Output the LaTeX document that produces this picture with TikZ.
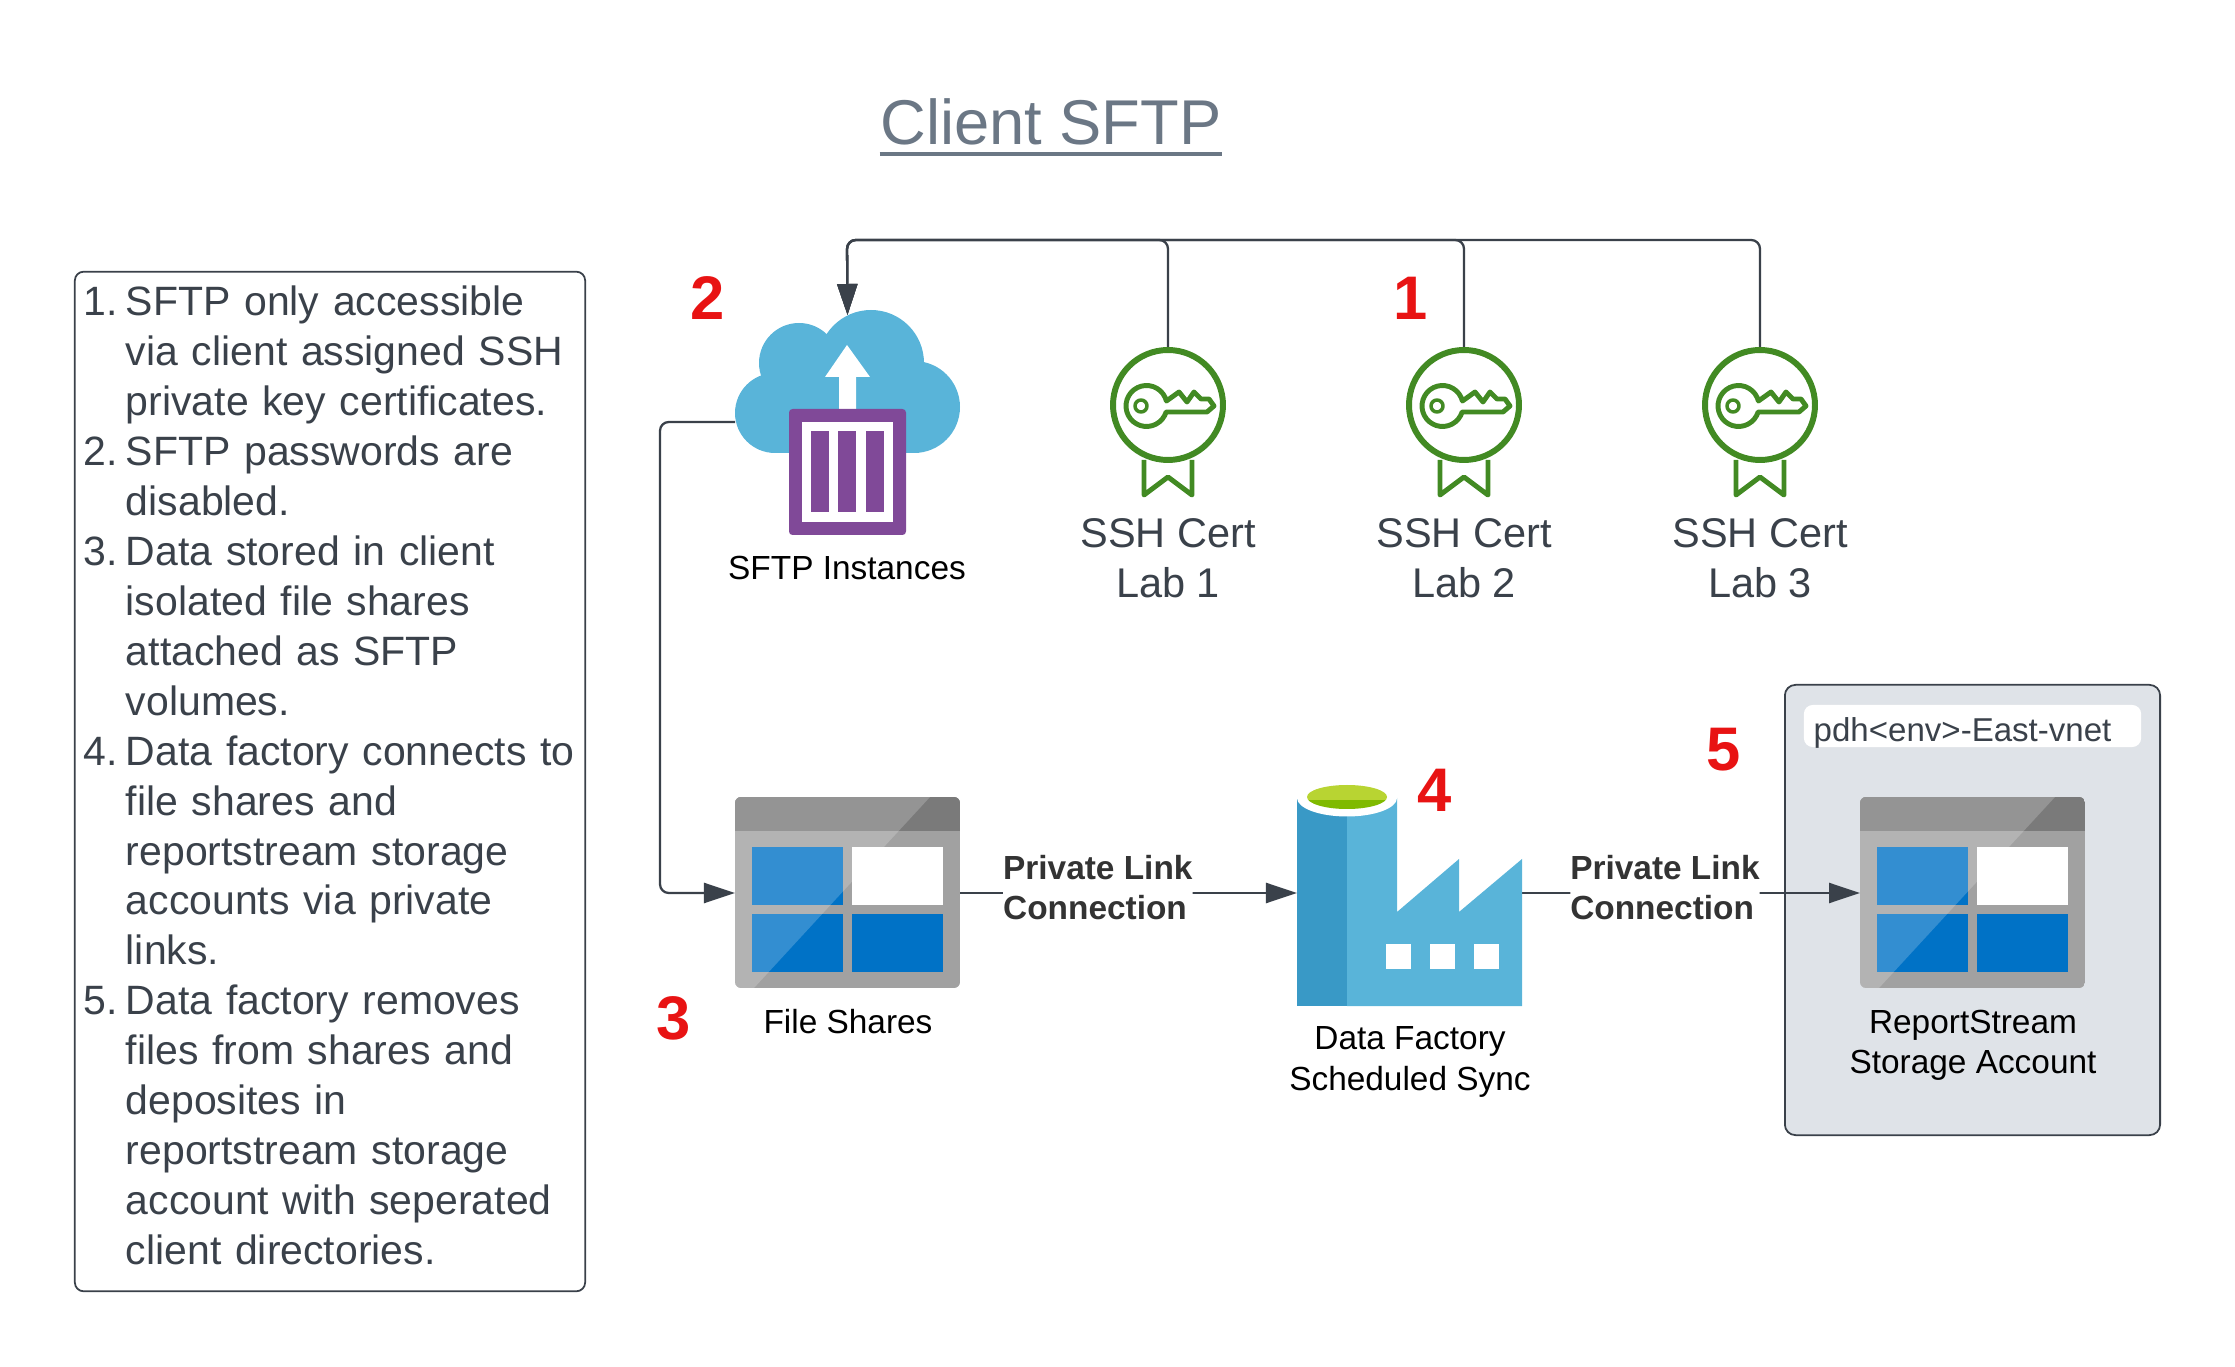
\documentclass[tikz,border=0pt]{standalone}
\usepackage{fontspec}
\setmainfont{Liberation Sans}
\usetikzlibrary{arrows.meta}
\definecolor{inkgray}{HTML}{3A414A}
\definecolor{titlegray}{HTML}{6B7785}
\definecolor{vnetgray}{HTML}{DFE3E8}
\definecolor{numred}{HTML}{E81313}
\definecolor{certgreen}{HTML}{428A23}
\definecolor{azsky}{HTML}{59B4D9}
\definecolor{azdeep}{HTML}{3999C6}
\definecolor{azblue}{HTML}{0072C6}
\definecolor{azpurple}{HTML}{804998}
\definecolor{limetop}{HTML}{B8D432}
\definecolor{limelow}{HTML}{7FBA00}
\newcommand{\nr}[1]{\makebox[0.42cm][l]{#1}}
\tikzset{
	conn/.style={draw=inkgray, line width=0.65pt, rounded corners=2.5pt, -{Triangle[length=8.8pt,width=5.7pt]}},
	iconslot/.style={inner sep=0pt, outer sep=0pt},
	smalllabel/.style={inner sep=0pt, align=center, text=black, font=\fontsize{9.5}{11.4}\selectfont},
	biglabel/.style={inner sep=0pt, align=center, text=inkgray, font=\fontsize{11.8}{14.2}\selectfont},
	linklabel/.style={fill=white, inner sep=0pt, align=left, text=black!80, font=\fontsize{9.5}{11.4}\selectfont\bfseries},
	numlabel/.style={inner sep=0pt, text=numred, font=\fontsize{17.5}{20}\selectfont\bfseries},
	storageicon/.pic={
		\begin{scope}
			\clip[rounded corners=1.7pt] (0,0) rectangle (225,191);
			\fill[black!37!white] (0,0) rectangle (225,191);
			\fill[black!52!white] (0,0) rectangle (225,34);
			\fill[azblue] (17,50) rectangle (108,108);
			\fill[white] (117,50) rectangle (208,108);
			\fill[azblue] (17,117) rectangle (108,175);
			\fill[azblue] (117,117) rectangle (208,175);
			\fill[white, opacity=0.2] (0,0)--(195,0)--(19,191)--(0,191)--cycle;
		\end{scope}
	},
	certicon/.pic={
		\draw[certgreen, line width=1.7pt] (0,0) circle[radius=55];
		\draw[certgreen, line width=1.4pt, line join=round] (-24,55)--(-24,90)--(0,72)--(24,90)--(24,55);
		\draw[certgreen, line width=1.4pt, line join=round] plot[smooth,domain=17:346,samples=30,variable=\t] ({-21.5+20.5*cos(\t)},{1+20.5*sin(\t)})
			--(11,-13)--(19,-3)--(26,-13)--(33,-6)--(41,-6)--(46,1)--(39,7)--cycle;
		\draw[certgreen, line width=1pt] (-27,1) circle[radius=6];
	}
}
\begin{document}
\begin{tikzpicture}[x=0.01cm, y=-0.01cm, line join=round]
	\useasboundingbox (0,0) rectangle (2235,1367);
	% heading and notes
	\node[inner sep=0pt, text=titlegray, font=\fontsize{18}{22}\selectfont] (heading) at (1051,122) {Client SFTP};
	\draw[titlegray, line width=0.9pt] ([yshift=-0.08cm]heading.south west) -- ([yshift=-0.08cm]heading.south east);
	\node[draw=inkgray, line width=0.5pt, rounded corners=2.5pt, minimum width=5.1cm, minimum height=10.19cm, inner sep=0pt] (notes) at (330,781.5) {};
	\node[inner sep=0pt, text width=4.96cm, align=left, text=inkgray, font=\fontsize{11.65}{14.2}\selectfont] (notestext) at (332,775.5) {\nr{1.}SFTP only accessible\\
		\nr{}via client assigned SSH\\
		\nr{}private key certificates.\\
		\nr{2.}SFTP passwords are\\
		\nr{}disabled.\\
		\nr{3.}Data stored in client\\
		\nr{}isolated file shares\\
		\nr{}attached as SFTP\\
		\nr{}volumes.\\
		\nr{4.}Data factory connects to\\
		\nr{}file shares and\\
		\nr{}reportstream storage\\
		\nr{}accounts via private\\
		\nr{}links.\\
		\nr{5.}Data factory removes\\
		\nr{}files from shares and\\
		\nr{}deposites in\\
		\nr{}reportstream storage\\
		\nr{}account with seperated\\
		\nr{}client directories.};
	% vnet group
	\node[draw=inkgray, fill=vnetgray, line width=0.5pt, rounded corners=3pt, minimum width=3.75cm, minimum height=4.5cm, inner sep=0pt] (vnet) at (1972.5,910) {};
	\node[fill=white, rounded corners=2.5pt, minimum width=3.37cm, minimum height=0.42cm, inner sep=0pt] (vnetbar) at (1972.5,726) {};
	\node[inner sep=0pt, anchor=base west, text=inkgray, font=\fontsize{9.4}{11.4}\selectfont] (vnetname) at (1813,742) {pdh<env>-East-vnet};
	% icon slots
	\node[iconslot, minimum width=2.25cm, minimum height=1.38cm] (cloud) at (847.5,384) {};
	\coordinate (cloudport) at (735,422);
	\node[iconslot, minimum width=1.16cm, minimum height=1.15cm] (certa) at (1168,405) {};
	\node[iconslot, minimum width=1.16cm, minimum height=1.15cm] (certb) at (1464,405) {};
	\node[iconslot, minimum width=1.16cm, minimum height=1.15cm] (certc) at (1760,405) {};
	\node[iconslot, minimum width=2.25cm, minimum height=1.92cm] (files) at (847.5,893) {};
	\node[iconslot, minimum width=2.25cm, minimum height=2.26cm] (factory) at (1409.5,893) {};
	\node[iconslot, minimum width=2.25cm, minimum height=1.92cm] (report) at (1972.5,893) {};
	\coordinate (toplink) at (847,240);
	\coordinate (sidelink) at (660,660);
	% connectors
	\draw[conn] (certc.north) |- (toplink) -- (cloud.north);
	\draw[conn] (certb.north) |- (toplink) -- (cloud.north);
	\draw[conn] (certa.north) |- (toplink) -- (cloud.north);
	\draw[conn] (cloudport) -| (sidelink) |- (files.west);
	\draw[conn] (files.east) -- node[linklabel, pos=0.409, yshift=0.05cm] (linka) {Private Link\\Connection} (factory.west);
	\draw[conn] (factory.east) -- node[linklabel, pos=0.423, yshift=0.05cm] (linkb) {Private Link\\Connection} (report.west);
	% cloud
	\fill[azsky] (775,413) circle[radius=40];
	\fill[azsky] (799,363) circle[radius=40];
	\fill[azsky] (871,363) circle[radius=53];
	\fill[azsky] (914,407) circle[radius=46];
	\fill[azsky] (775,360) rectangle (914,453);
	\fill[white] (847,345)--(870,377)--(856,377)--(856,410)--(839,410)--(839,377)--(825,377)--cycle;
	\fill[azpurple, rounded corners=1pt] (789,409) rectangle (906,535);
	\fill[white] (802,422) rectangle (893,522);
	\foreach \barx in {811,838,866}
		\fill[azpurple] (\barx,431) rectangle (\barx+18,512);
	% certificates
	\foreach \certx in {1168,1464,1760}
		\pic at (\certx,405) {certicon};
	% storage
	\pic at (735,797) {storageicon};
	\pic at (1860,797) {storageicon};
	% factory
	\fill[azsky] (1347,798)--(1397,798)--(1397,912)--(1459,859)--(1459,912)--(1522,859)--(1522,1006)--(1347,1006)--cycle;
	\fill[azdeep] (1297,798) rectangle (1347,1006);
	\fill[white] (1347,798) ellipse[x radius=50, y radius=18.5];
	\begin{scope}
		\clip (1347,797) ellipse[x radius=40, y radius=12];
		\fill[limetop] (1300,780) rectangle (1400,800);
		\fill[limelow] (1300,800) rectangle (1400,815);
	\end{scope}
	\foreach \winx in {1386,1430,1474}
		\fill[white] (\winx,944) rectangle (\winx+25,969);
	% labels
	\node[smalllabel] (cloudname) at (847,568) {SFTP Instances};
	\node[biglabel] (certaname) at (1168,558) {SSH Cert\\Lab 1};
	\node[biglabel] (certbname) at (1464,558) {SSH Cert\\Lab 2};
	\node[biglabel] (certcname) at (1760,558) {SSH Cert\\Lab 3};
	\node[smalllabel] (filesname) at (848,1022) {File Shares};
	\node[smalllabel] (factoryname) at (1410,1062) {Data Factory\\Scheduled Sync};
	\node[smalllabel] (reportname) at (1973,1045) {ReportStream\\Storage Account};
	\node[numlabel] (numa) at (1411,298) {1};
	\node[numlabel] (numb) at (708,298) {2};
	\node[numlabel] (numc) at (674,1018) {3};
	\node[numlabel] (numd) at (1435,790) {4};
	\node[numlabel] (nume) at (1724,750) {5};
\end{tikzpicture}
\end{document}
